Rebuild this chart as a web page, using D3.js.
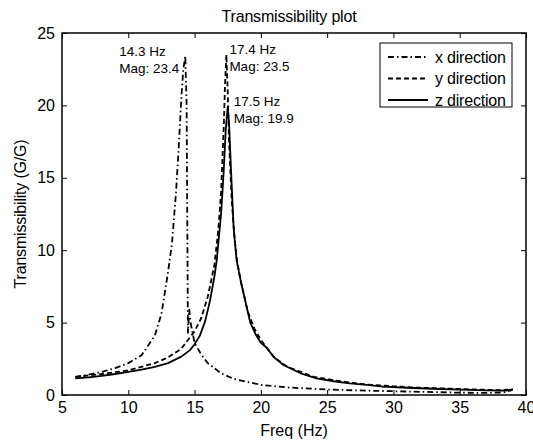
<!DOCTYPE html>
<meta charset="utf-8">
<script src="https://d3js.org/d3.v7.min.js"></script>
<style>
    body { margin: 0; background: #fff; }
    text { font-family: "Liberation Sans", Arial, sans-serif; fill: #000; }
</style>
<body>
<div id="my_dataviz"></div>
<script>
    // frequency / magnitude
    var xFreq = [6, 7, 8, 9, 10, 11, 12, 12.5, 13, 13.3, 13.6, 13.8, 14.0, 14.15, 14.3, 14.4, 14.45, 14.5, 14.6, 14.7, 15, 15.5, 16, 16.5, 17, 18, 19, 20, 22, 25, 28, 30, 33, 35, 37, 38.3, 39]
    var xMag  = [1.25, 1.4, 1.6, 1.85, 2.2, 2.75, 4.1, 5.6, 8.5, 10.5, 14, 17, 20.5, 22.5, 23.4, 20, 12, 4.3, 5.9, 5.0, 3.6, 2.8, 2.2, 1.85, 1.5, 1.1, 0.9, 0.7, 0.52, 0.38, 0.3, 0.26, 0.2, 0.16, 0.14, 0.18, 0.35]

    var yFreq = [6, 8, 10, 12, 13, 14, 15, 15.5, 16, 16.5, 16.8, 17.0, 17.2, 17.3, 17.4, 17.5, 17.6, 17.8, 18.0, 18.2, 18.5, 19, 19.5, 20, 21, 22, 24, 26, 28, 30, 32, 35, 38, 39]
    var yMag  = [1.25, 1.45, 1.7, 2.2, 2.6, 3.2, 4.4, 5.3, 6.8, 9.0, 11.5, 14, 18.5, 21.5, 23.5, 21, 17.5, 13.5, 11, 9.3, 7.8, 5.8, 4.6, 3.8, 2.6, 1.95, 1.25, 0.95, 0.72, 0.6, 0.5, 0.42, 0.33, 0.4]

    var zFreq = [6, 7, 8, 9, 10, 11, 12, 13, 14, 14.65, 15, 15.4, 15.8, 16.16, 16.5, 16.67, 17.0, 17.2, 17.35, 17.5, 17.6, 17.75, 17.95, 18.17, 18.5, 18.9, 19.2, 19.6, 20, 20.4, 21, 21.7, 23, 24.2, 25.5, 26.7, 28, 29.2, 31, 33, 35, 37, 38.5, 39]
    var zMag  = [1.15, 1.22, 1.32, 1.45, 1.6, 1.75, 1.95, 2.2, 2.65, 3.1, 3.5, 4.1, 5.1, 6.5, 8.2, 9.3, 12.5, 15.5, 18.3, 19.9, 18.8, 15.5, 11.5, 9.3, 7.8, 6.2, 5.0, 4.2, 3.6, 3.3, 2.6, 2.07, 1.5, 1.15, 0.95, 0.8, 0.7, 0.58, 0.5, 0.43, 0.37, 0.32, 0.3, 0.39]

    var seriesNames = ["x direction", "y direction", "z direction"]
    var xTicks = [5, 10, 15, 20, 25, 30, 35, 40]
    var yTicks = [0, 5, 10, 15, 20, 25]

    // peak labels: [freq, mag, line 1, line 2]
    var peakLabels = [
        [14.3, 23.4, "14.3 Hz", "Mag: 23.4"],
        [17.4, 23.5, "17.4 Hz", "Mag: 23.5"],
        [17.5, 19.9, "17.5 Hz", "Mag: 19.9"]
    ]
    var labelDx = [-66, 3, 6]

    var margin = {top: 33, right: 7, bottom: 46, left: 62},
        width = 533 - margin.left - margin.right,
        height = 441 - margin.top - margin.bottom;

    var svg = d3.select("#my_dataviz")
        .append("svg")
        .attr("width", 533)
        .attr("height", 441)
        .append("g")
        .attr("transform", "translate(" + margin.left + "," + margin.top + ")");

    var x = d3.scaleLinear().domain([5, 40]).range([0, width])
    var y = d3.scaleLinear().domain([0, 25]).range([height, 0])

    // ticks: inward, on all four sides (box on)
    var tl = 5
    svg.append("g")
        .attr("transform", "translate(0," + height + ")")
        .call(d3.axisBottom(x).tickValues(xTicks).tickSize(-tl).tickPadding(7))
        .call(function(g) { g.select(".domain").remove() })
        .selectAll("text").style("font-size", "16px").attr("font-family", null)
    svg.append("g")
        .call(d3.axisTop(x).tickValues(xTicks).tickSize(-tl).tickFormat(""))
        .select(".domain").remove()
    svg.append("g")
        .call(d3.axisLeft(y).tickValues(yTicks).tickSize(-tl).tickPadding(7))
        .call(function(g) { g.select(".domain").remove() })
        .selectAll("text").style("font-size", "16px").attr("font-family", null)
    svg.append("g")
        .attr("transform", "translate(" + width + ",0)")
        .call(d3.axisRight(y).tickValues(yTicks).tickSize(-tl).tickFormat(""))
        .select(".domain").remove()
    svg.selectAll(".tick line").attr("stroke", "#000").attr("stroke-width", 1)

    // box
    svg.append("rect")
        .attr("width", width)
        .attr("height", height)
        .attr("fill", "none")
        .attr("stroke", "#000")
        .attr("stroke-width", 1.5)

    var dashes = ["6,3,1.5,3", "5,3", null]
    var series = [
        d3.zip(xFreq, xMag),
        d3.zip(yFreq, yMag),
        d3.zip(zFreq, zMag)
    ]

    var line = d3.line()
        .x(function(d) { return x(d[0]) })
        .y(function(d) { return y(d[1]) })

    svg.selectAll(".curve")
        .data(series)
        .enter()
        .append("path")
        .attr("class", "curve")
        .attr("d", line)
        .attr("fill", "none")
        .attr("stroke", "#000")
        .attr("stroke-width", 1.8)
        .attr("stroke-linejoin", "round")
        .attr("stroke-dasharray", function(d, i) { return dashes[i] })

    // peak annotations
    peakLabels.forEach(function(p, i) {
        var t = svg.append("text")
            .attr("x", x(p[0]) + labelDx[i])
            .attr("y", y(p[1]) - 0.5)
            .style("font-size", "13.5px")
        t.append("tspan").text(p[2])
        t.append("tspan").attr("x", x(p[0]) + labelDx[i]).attr("dy", 17).text(p[3])
    })

    // legend
    var legend = svg.append("g").attr("transform", "translate(" + (380 - margin.left) + "," + (43 - margin.top) + ")")
    legend.append("rect")
        .attr("width", 132)
        .attr("height", 64)
        .attr("fill", "#fff")
        .attr("stroke", "#000")
        .attr("stroke-width", 1)
    seriesNames.forEach(function(name, i) {
        var ly = 14 + i * 21.5
        legend.append("line")
            .attr("x1", 8).attr("x2", 48)
            .attr("y1", ly).attr("y2", ly)
            .attr("stroke", "#000")
            .attr("stroke-width", 1.8)
            .attr("stroke-dasharray", dashes[i])
        legend.append("text")
            .attr("x", 55)
            .attr("y", ly + 5.5)
            .style("font-size", "16px")
            .style("letter-spacing", "-0.2px")
            .text(name)
    })

    // title and axis labels
    svg.append("text")
        .attr("x", 289 - margin.left)
        .attr("y", -11)
        .attr("text-anchor", "middle")
        .style("font-size", "16px")
        .style("letter-spacing", "-0.2px")
        .text("Transmissibility plot")

    svg.append("text")
        .attr("x", width / 2)
        .attr("y", height + 41)
        .attr("text-anchor", "middle")
        .style("font-size", "16px")
        .text("Freq (Hz)")

    svg.append("text")
        .attr("transform", "rotate(-90)")
        .attr("x", -height / 2)
        .attr("y", -36)
        .attr("text-anchor", "middle")
        .style("font-size", "16px")
        .style("letter-spacing", "-0.2px")
        .text("Transmissibility (G/G)")
</script>
</body>
